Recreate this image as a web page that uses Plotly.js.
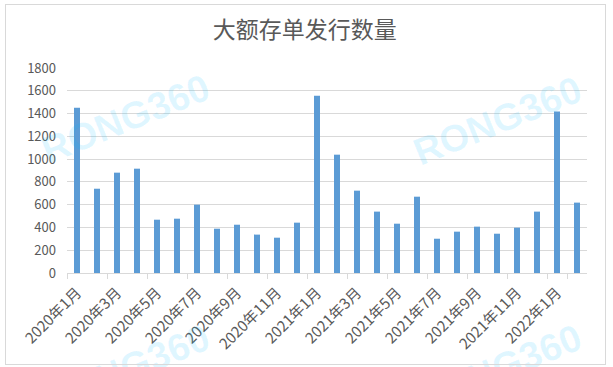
<!DOCTYPE html>
<html><head><meta charset="utf-8">
<script src="https://cdn.plot.ly/plotly-3.0.1.min.js"></script>
<style>
html,body{margin:0;padding:0;background:#fff;}
#wrap{position:relative;width:613px;height:367px;}
#chart{position:absolute;left:0;top:0;width:613px;height:367px;}
#frame{position:absolute;left:5px;top:4px;width:599px;height:359px;border:1px solid #d9d9d9;pointer-events:none;}
</style></head>
<body><div id="wrap"><div id="chart"></div><div id="frame"></div></div>
<script>
const months = ["2020年1月","2020年2月","2020年3月","2020年4月","2020年5月","2020年6月","2020年7月","2020年8月","2020年9月","2020年10月","2020年11月","2020年12月",
"2021年1月","2021年2月","2021年3月","2021年4月","2021年5月","2021年6月","2021年7月","2021年8月","2021年9月","2021年10月","2021年11月","2021年12月",
"2022年1月","2022年2月"];
const counts = [1450,740,881,916,468,477,600,389,424,337,310,442,1557,1039,723,539,433,670,301,363,407,345,398,539,1417,618];
const tickMonths = months.filter((m,i)=>i%2===0);

const font = "'Noto Sans CJK SC', 'Microsoft YaHei', sans-serif";
const data = [{
  type:'bar', x: months, y: counts,
  marker:{color:'#5b9bd5'}, hoverinfo:'x+y'
}];
const wm = (x,y)=>({xref:'paper',yref:'paper',x:x,y:y,xanchor:'center',yanchor:'middle',
  text:'<b>RONG360</b>',showarrow:false,
  textangle:-22,font:{family:'Arial, sans-serif',size:38,color:'rgba(0,190,255,0.12)'}});
const layout = {
  width:613,height:367,
  margin:{l:67,r:26,t:68,b:94},
  paper_bgcolor:'rgba(0,0,0,0)',plot_bgcolor:'rgba(0,0,0,0)',
  title:{text:'大额存单发行数量',x:0.497,xanchor:'center',y:0.918,yanchor:'middle',
    font:{family:font,size:23,color:'#595959'}},
  bargap:0.7,
  showlegend:false,
  xaxis:{type:'category',tickmode:'array',tickvals:tickMonths,ticktext:tickMonths,
    tickangle:-45,tickson:'boundaries',ticks:'outside',ticklen:5,tickcolor:'#d9d9d9',
    showline:true,linecolor:'#d9d9d9',linewidth:1,showgrid:false,ticklabelstandoff:4,
    tickfont:{family:font,size:15,color:'#595959'}},
  yaxis:{range:[0,1800],dtick:200,showgrid:true,gridcolor:'#d9d9d9',gridwidth:1,
    zeroline:false,showline:false,ticks:'',ticklabelstandoff:10,
    tickfont:{family:font,size:13,color:'#595959'}},
  annotations:[wm(0.112,0.75),wm(0.827,0.74),wm(0.112,-0.47),wm(0.827,-0.47)]
};
Plotly.newPlot('chart',data,layout,{displayModeBar:false,staticPlot:true});
</script></body></html>
